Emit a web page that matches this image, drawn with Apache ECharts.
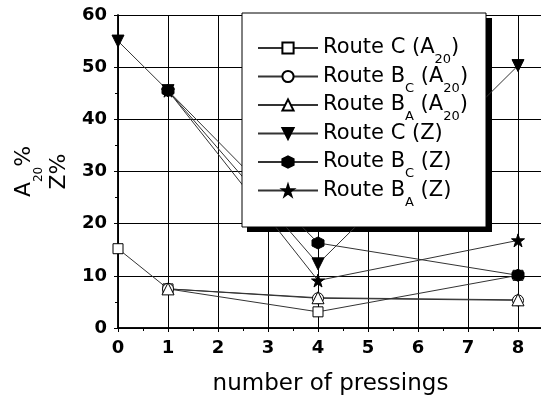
<!DOCTYPE html>
<html>
<head>
<meta charset="utf-8">
<script src="https://cdn.jsdelivr.net/npm/echarts@6/dist/echarts.min.js"></script>
<style>
html,body{margin:0;padding:0;background:#fff;}
#chart{width:541px;height:398px;}
</style>
</head>
<body>
<div id="chart"></div>
<script>
// ---- data ----
var seriesNames = ['Route C (A20)', 'Route BC (A20)', 'Route BA (A20)', 'Route C (Z)', 'Route BC (Z)', 'Route BA (Z)'];
var xRouteC = [0, 1, 4, 8];
var xRouteB = [1, 4, 8];
var routeC_A20 = [15.2, 7.5, 3.1, 10.1];
var routeBC_A20 = [7.5, 5.7, 5.3];
var routeBA_A20 = [7.5, 5.8, 5.4];
var routeC_Z = [55, 45.5, 12.3, 50.3];
var routeBC_Z = [45.5, 16.3, 10.1];
var routeBA_Z = [45.5, 9.1, 16.8];
var xTicks = [0, 1, 2, 3, 4, 5, 6, 7, 8];
var yTicks = [0, 10, 20, 30, 40, 50, 60];

function pairs(xs, ys) { return xs.map(function (x, i) { return [x, ys[i]]; }); }

var FONT = 'DejaVu Sans';
var triDown = 'path://M0,0 L10,0 L5,10 Z';
var hexagon = 'path://M5,0 L9.33,2.5 L9.33,7.5 L5,10 L0.67,7.5 L0.67,2.5 Z';
var star = 'path://M5,0 L6.18,3.62 L10,3.62 L6.9,5.86 L8.09,9.5 L5,7.24 L1.91,9.5 L3.1,5.86 L0,3.62 L3.82,3.62 Z';

var legendLabels = {
  'Route C (A20)': '{m|Route C (A}{s|20}{m|)}',
  'Route BC (A20)': '{m|Route B}{s|C}{m| (A}{s|20}{m|)}',
  'Route BA (A20)': '{m|Route B}{s|A}{m| (A}{s|20}{m|)}',
  'Route C (Z)': '{m|Route C (Z)}{s| }',
  'Route BC (Z)': '{m|Route B}{s|C}{m| (Z)}',
  'Route BA (Z)': '{m|Route B}{s|A}{m| (Z)}'
};

function mk(name, data, symbol, size, filled) {
  return {
    name: name, type: 'line', data: data, symbol: symbol, symbolSize: size,
    showAllSymbol: true, animation: false,
    lineStyle: { color: '#333', width: 1 },
    itemStyle: filled ? { color: '#000', borderColor: '#000', borderWidth: 1 }
                      : { color: '#fff', borderColor: '#000', borderWidth: 1 },
    emphasis: { disabled: true }
  };
}

var chart = echarts.init(document.getElementById('chart'), null, { renderer: 'canvas' });
chart.setOption({
  animation: false,
  backgroundColor: '#fff',
  textStyle: { fontFamily: FONT },
  grid: { left: 118, top: 15, width: 425, height: 313, containLabel: false, outerBoundsMode: 'none' },
  graphic: [{
    type: 'rect', z: 3, silent: true,
    shape: { x: 247, y: 18, width: 245, height: 214 },
    style: { fill: '#000' }
  }],
  legend: {
    orient: 'vertical', left: 242, top: 13, z: 4,
    padding: [23, 13, 18, 15],
    itemGap: -2, itemWidth: 60, itemHeight: 14,
    backgroundColor: '#fff', borderColor: '#000', borderWidth: 1,
    data: seriesNames,
    formatter: function (n) { return legendLabels[n]; },
    textStyle: {
      fontFamily: FONT, color: '#000', width: 150, lineHeight: 24,
      rich: {
        m: { fontFamily: FONT, fontSize: 21, lineHeight: 24, color: '#000' },
        s: { fontFamily: FONT, fontSize: 13, lineHeight: 24, height: 0, verticalAlign: 'bottom', color: '#000' }
      }
    }
  },
  xAxis: [{
    type: 'value', position: 'bottom', min: 0, max: 8.5, interval: 1,
    name: 'number of pressings', nameLocation: 'middle', nameGap: 45,
    nameTextStyle: { fontFamily: FONT, fontSize: 23, color: '#000' },
    axisLine: { lineStyle: { color: '#000', width: 1.5 } },
    axisTick: { show: true, inside: false, length: 4, lineStyle: { color: '#000', width: 1 } },
    minorTick: { show: true, splitNumber: 2, length: 3, lineStyle: { color: '#000', width: 1 } },
    splitLine: { show: true, lineStyle: { color: '#000', width: 1 } },
    axisLabel: {
      margin: 11, fontFamily: FONT, fontSize: 18, fontWeight: 'bold', color: '#000',
      formatter: function (v) { return xTicks.indexOf(v) >= 0 ? String(v) : ''; }
    }
  }, {
    type: 'value', position: 'top', min: 0, max: 8.5, interval: 1,
    axisLine: { show: true, lineStyle: { color: '#000', width: 1.5 } },
    axisTick: { show: true, inside: true, length: 4, lineStyle: { color: '#000', width: 1 } },
    minorTick: { show: true, splitNumber: 2, length: 3, lineStyle: { color: '#000', width: 1 } },
    splitLine: { show: false }, axisLabel: { show: false }
  }],
  yAxis: [{
    type: 'value', position: 'left', min: 0, max: 60, interval: 10,
    name: '{m|A}{s|20}{m|%}\n{m|Z%}', nameLocation: 'middle', nameRotate: 90, nameGap: 41,
    nameTextStyle: {
      fontFamily: FONT, color: '#000',
      rich: {
        m: { fontFamily: FONT, fontSize: 22, lineHeight: 35, color: '#000' },
        s: { fontFamily: FONT, fontSize: 12, lineHeight: 35, padding: [28, 0, 0, 0], color: '#000' }
      }
    },
    axisLine: { show: true, lineStyle: { color: '#000', width: 1.5 } },
    axisTick: { show: true, inside: false, length: 4, lineStyle: { color: '#000', width: 1 } },
    minorTick: { show: true, splitNumber: 2, length: 3, lineStyle: { color: '#000', width: 1 } },
    splitLine: { show: true, lineStyle: { color: '#000', width: 1 } },
    axisLabel: {
      margin: 11, fontFamily: FONT, fontSize: 18, fontWeight: 'bold', color: '#000',
      formatter: function (v) { return yTicks.indexOf(v) >= 0 ? String(v) : ''; }
    }
  }, {
    type: 'value', position: 'right', min: 0, max: 60, interval: 10,
    axisLine: { show: true, lineStyle: { color: '#000', width: 1.5 } },
    axisTick: { show: true, inside: true, length: 4, lineStyle: { color: '#000', width: 1 } },
    minorTick: { show: true, splitNumber: 2, length: 3, lineStyle: { color: '#000', width: 1 } },
    splitLine: { show: false }, axisLabel: { show: false }
  }],
  series: [
    mk(seriesNames[0], pairs(xRouteC, routeC_A20), 'rect', 10, false),
    mk(seriesNames[1], pairs(xRouteB, routeBC_A20), 'circle', 11, false),
    mk(seriesNames[2], pairs(xRouteB, routeBA_A20), 'triangle', 12, false),
    mk(seriesNames[3], pairs(xRouteC, routeC_Z), triDown, 12, true),
    mk(seriesNames[4], pairs(xRouteB, routeBC_Z), hexagon, 12, true),
    mk(seriesNames[5], pairs(xRouteB, routeBA_Z), star, 13, true)
  ]
});
</script>
</body>
</html>
